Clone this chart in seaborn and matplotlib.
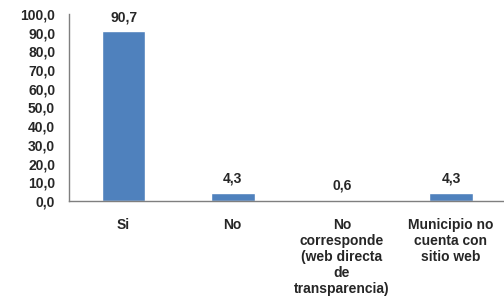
import matplotlib
matplotlib.use("Agg")
import matplotlib.pyplot as plt
import seaborn as sns
import pandas as pd

categories = ["Si", "No", "No\ncorresponde\n(web directa\nde\ntransparencia)", "Municipio no\ncuenta con\nsitio web"]
values = [90.7, 4.3, 0.6, 4.3]
yticks = [0, 10, 20, 30, 40, 50, 60, 70, 80, 90, 100]

sns.set_style("white")
plt.rcParams['font.family'] = ['Liberation Sans', 'DejaVu Sans']

df = pd.DataFrame({"cat": categories, "val": values})
fig = plt.figure(figsize=(5.04, 2.99), dpi=100)
ax = fig.add_axes([0.137, 0.328, 0.866, 0.625])
sns.barplot(data=df, x="cat", y="val", color="#4F81BD", width=0.40, ax=ax, saturation=1)

ax.set_ylim(0, 100)
ax.set_yticks(yticks)
ax.set_yticklabels([f"{v:.1f}".replace(".", ",") for v in yticks], fontsize=10, fontweight="bold")
ax.tick_params(axis="y", length=0, pad=10)
ax.tick_params(axis="x", length=0, pad=12, labelsize=10)
for lbl in ax.get_xticklabels():
    lbl.set_fontweight("bold")
    lbl.set_verticalalignment("top")
ax.set_xlabel("")
ax.set_ylabel("")
for s in ["top", "right"]:
    ax.spines[s].set_visible(False)
for s in ["left", "bottom"]:
    ax.spines[s].set_color("#7f7f7f")
    ax.spines[s].set_linewidth(1)

for i, v in enumerate(values):
    ax.annotate(f"{v:.1f}".replace(".", ","), (i, v), xytext=(0, 5), textcoords="offset points",
                ha="center", va="bottom", fontsize=10, fontweight="bold")

fig.savefig("out.png", dpi=100)
